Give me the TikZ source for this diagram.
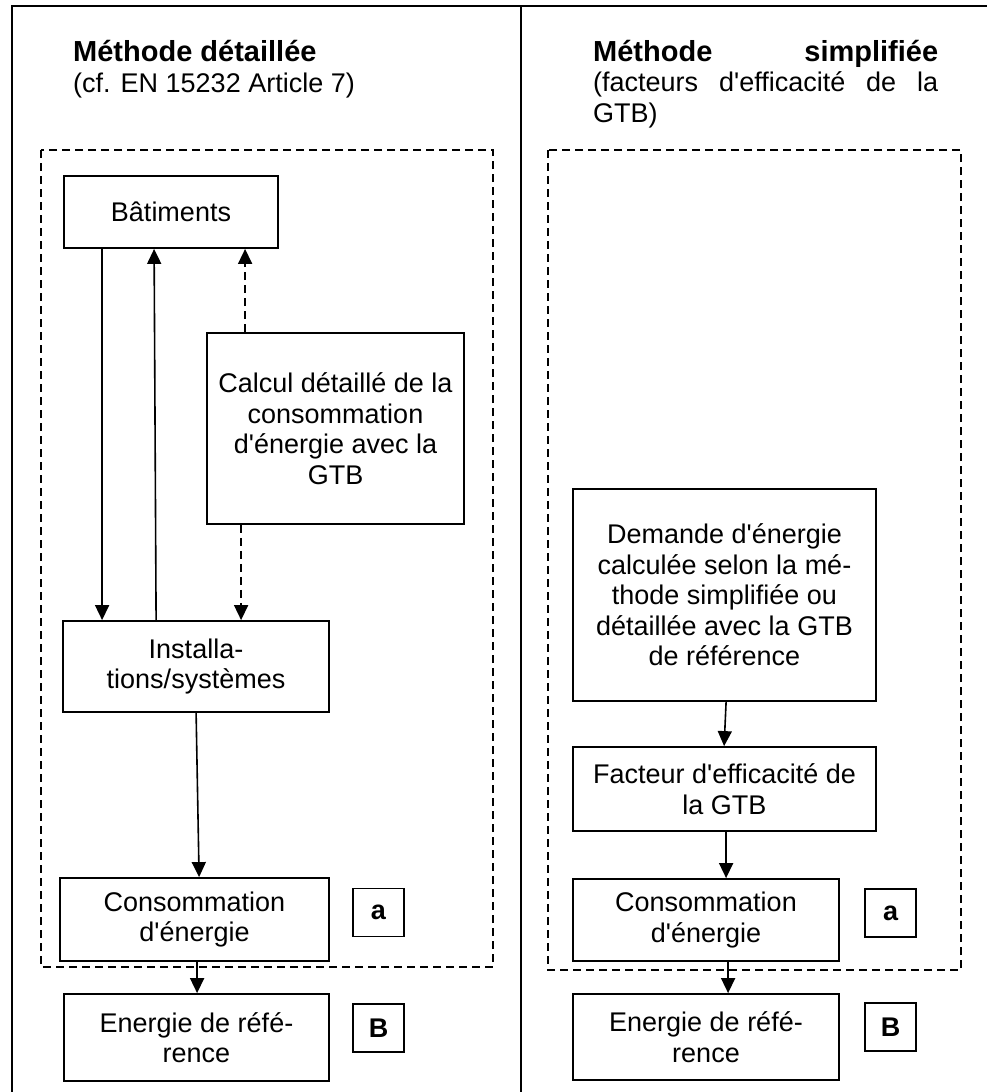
\documentclass[tikz,border=0pt]{standalone}
\usepackage{fontspec}
\setmainfont{Liberation Sans}
\usetikzlibrary{arrows.meta}
\newcommand\boxfont{\fontsize{27}{30.5}\selectfont}
\newcommand\titlefont{\fontsize{29}{31}\selectfont\bfseries}
\newcommand\ap{\textquotesingle}
\begin{document}
\begin{tikzpicture}[x=1pt,y=-1pt,
  box/.style={draw,line width=1.8pt,inner sep=0pt,align=center,font=\boxfont},
  tag/.style={draw,line width=1.8pt,inner sep=0pt,font=\boxfont\bfseries,minimum width=51pt,minimum height=48pt},
  arr/.style={line width=1.6pt,-{Triangle[length=15pt,width=14pt]}},
  dsh/.style={dash pattern=on 8pt off 5pt},
  ttl/.style={anchor=base west,inner sep=0pt}]
\useasboundingbox (0,0) rectangle (987,1092);
% frame
\draw[line width=1.6pt] (12,1092) -- (12,6) -- (987,6);
\draw[line width=1.6pt] (521,6) -- (521,1092);
% titles
\node[ttl,font=\titlefont] (t1) at (73,61) {Méthode détaillée};
\node[ttl,font=\boxfont] (s1) at (73,92) {(cf. EN 15232 Article 7)};
\node[ttl,font=\titlefont] (t2) at (593,61) {\makebox[345pt][s]{Méthode simplifiée}};
\node[ttl,font=\boxfont] (s2) at (593,91) {\makebox[345pt][s]{(facteurs d\ap efficacité de la}};
\node[ttl,font=\boxfont] (s3) at (593,122) {GTB)};
% dashed group boxes
\draw[dsh,line width=1.6pt] (41,150) rectangle (493,967);
\draw[dsh,line width=1.6pt] (548,150) rectangle (961,970);
% left column
\node[box,minimum width=214pt,minimum height=72pt] (bat) at (171,212) {Bâtiments};
\node[box,minimum width=257pt,minimum height=191pt] (calc) at (335.5,428.5) {Calcul détaillé de la\\consommation\\d\ap énergie avec la\\GTB};
\node[box,minimum width=266pt,minimum height=91pt] (inst) at (196,666.5) {Installa-\\tions/systèmes};
\node[box,minimum width=269pt,minimum height=83pt] (consL) at (194.5,919.5) {Consommation\\d\ap énergie};
\node[tag] (aL) at (378.5,912.5) {a};
\node[box,minimum width=265pt,minimum height=87pt] (enerL) at (196.5,1037.5) {Energie de réfé-\\rence};
\node[tag] (BL) at (378.5,1028) {B};
% right column
\node[box,minimum width=303pt,minimum height=212pt] (dem) at (724.5,595) {Demande d\ap énergie\\calculée selon la mé-\\thode simplifiée ou\\détaillée avec la GTB\\de référence};
\node[box,minimum width=303pt,minimum height=84pt] (fac) at (724.5,789) {Facteur d\ap efficacité de\\la GTB};
\node[box,minimum width=266pt,minimum height=82pt] (consR) at (706,920) {Consommation\\d\ap énergie};
\node[tag] (aR) at (890.5,913) {a};
\node[box,minimum width=266pt,minimum height=86pt] (enerR) at (706,1037) {Energie de réfé-\\rence};
\node[tag] (BR) at (890.5,1027) {B};
% connectors left
\draw[arr] ([xshift=39pt]bat.south west) -- ([xshift=40pt]inst.north west);
\draw[arr] ([xshift=94pt]inst.north west) -- ([xshift=91pt]bat.south west);
\draw[arr,dsh] ([xshift=39pt]calc.north west) -- ([xshift=182pt]bat.south west);
\draw[arr,dsh] ([xshift=35pt]calc.south west) -- ([xshift=179pt]inst.north west);
\draw[arr] ([xshift=134pt]inst.south west) -- ([xshift=140pt]consL.north west);
\draw[arr] ([xshift=138pt]consL.south west) -- ([xshift=134pt]enerL.north west);
% connectors right
\draw[arr] ([xshift=154pt]dem.south west) -- ([xshift=152pt]fac.north west);
\draw[arr] ([xshift=154pt]fac.south west) -- ([xshift=154pt]consR.north west);
\draw[arr] ([xshift=156pt]consR.south west) -- ([xshift=156pt]enerR.north west);
\end{tikzpicture}
\end{document}
